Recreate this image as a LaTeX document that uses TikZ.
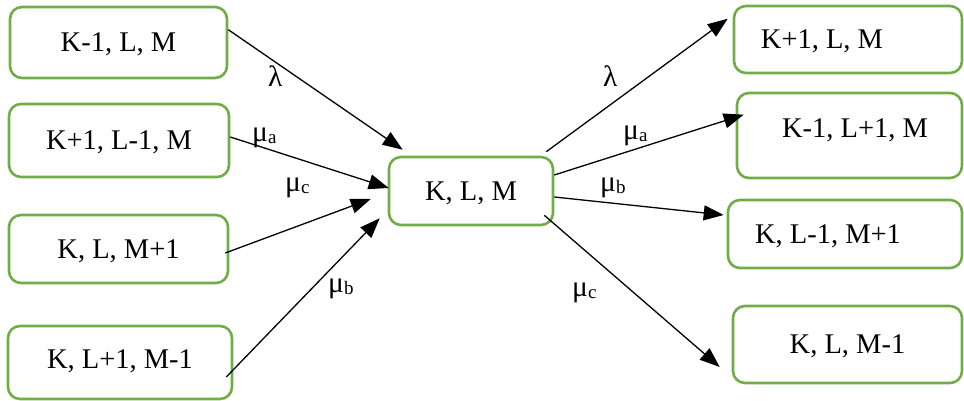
\documentclass[tikz,border=0pt]{standalone}
\usepackage{fontspec}
\setmainfont{Liberation Serif}
\usetikzlibrary{arrows.meta,calc}
\definecolor{boxgreen}{RGB}{112,173,71}
% lowered subscript for the rate labels
\newcommand\ratesub[1]{\raisebox{-2pt}{\fontsize{19}{19}\selectfont #1}}
\begin{document}
\begin{tikzpicture}[x=1pt,y=1pt,
  state/.style={draw=boxgreen, line width=2.6pt, rounded corners=12pt, inner sep=0pt,
                text height=18.8pt, text depth=0pt, font=\fontsize{28.5}{32}\selectfont},
  dims/.style 2 args={minimum width=#1pt, minimum height=#2pt},
  flow/.style={line width=1.3pt, -{Triangle[length=20pt,width=15pt]}},
  rate/.style={anchor=base west, inner sep=0pt, font=\fontsize{29.5}{32}\selectfont}]
\useasboundingbox (0,0) rectangle (964,401);

% neighbouring states flowing in
\node[state, dims={217}{71}] (l1) at (118.5,358.5) {K-1, L, M};
\node[state, dims={220}{73}] (l2) at (119,260.5) {K+1, L-1, M};
\node[state, dims={219}{68}] (l3) at (118.5,152) {K, L, M+1};
\node[state, dims={224}{73}, text depth=7pt] (l4) at (120,38.5) {K, L+1, M-1};

% the central state
\node[state, dims={164}{68}] (c) at (471,210) {K, L, M};

% neighbouring states flowing out
\node[state, dims={228}{67}] (r1) at (848,361.5) {K+1, L, M\hspace{52pt}\hbox{}};
\node[state, dims={225}{85}, text depth=15pt] (r2) at (849.5,265.5) {\hspace{11pt}K-1, L+1, M};
\node[state, dims={234}{68}] (r3) at (845,167) {K, L-1, M+1\hspace{34pt}\hbox{}};
\node[state, dims={229}{77}] (r4) at (847.5,56.5) {K, L, M-1};

% incoming transitions
\draw[flow] ($(l1.north east)+(0,-24)$) -- ($(c.north west)+(15,6)$);
\draw[flow] ($(l2.east)+(0,3.5)$) -- ($(c.west)+(1,3)$);
\draw[flow] ($(l3.east)+(-4,-4)$) -- ($(c.west)+(-17,-8)$);
\draw[flow] ($(l4.east)+(-7,-14.5)$) -- ($(c.south west)+(-8,8)$);

% outgoing transitions
\draw[flow] ($(c.north east)+(-8,4)$) -- ($(r1.north west)+(-5,-14)$);
\draw[flow] ($(c.east)+(0,16)$) -- ($(r2.north west)+(8,-23)$);
\draw[flow] ($(c.east)+(0,-6)$) -- ($(r3.west)+(-3,19)$);
\draw[flow] ($(c.south east)+(-10,11)$) -- ($(r4.west)+(-12,-22.5)$);

% transition rates
\node[rate] (lamin) at (268,314) {λ};
\node[rate] (muain) at (252,259) {μ\ratesub{a}};
\node[rate] (mucin) at (285,209) {μ\ratesub{c}};
\node[rate] (mubin) at (328,108) {μ\ratesub{b}};
\node[rate] (lamout) at (603,314) {λ};
\node[rate] (muaout) at (623,261) {μ\ratesub{a}};
\node[rate] (mubout) at (600,209) {μ\ratesub{b}};
\node[rate] (mucout) at (572,104) {μ\ratesub{c}};
\end{tikzpicture}
\end{document}
